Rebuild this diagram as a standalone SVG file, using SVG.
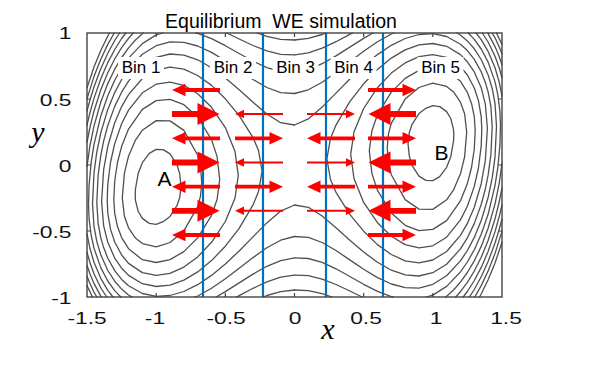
<svg xmlns="http://www.w3.org/2000/svg" xmlns:xlink="http://www.w3.org/1999/xlink" width="600" height="368" viewBox="0 0 600 368">
<style>
.c{fill:none;stroke:#505050;stroke-width:1.3;stroke-linejoin:round;stroke-linecap:round}
.bl{stroke:#0070c0;stroke-width:2.2}
.ar{fill:#ff0000}
.lbl{font-family:"Liberation Sans",Arial,sans-serif;font-size:17px;fill:#000;text-anchor:middle}
.tk{font-family:"Liberation Sans",Arial,sans-serif;font-size:16.5px;fill:#111}
.ax{font-family:"Liberation Serif","Times New Roman",serif;font-style:italic;font-size:30px;fill:#000;text-anchor:middle}
.fr{fill:none;stroke:#444;stroke-width:1.4}
.tick{stroke:#444;stroke-width:1.2}
</style>
<defs>
<path id="am" d="M0,-1.9H34.5V-6.3L48,0L34.5,6.3V1.9H0Z"/>
<path id="at" d="M0,-2.9H25.5V-11L47.5,0L25.5,11V2.9H0Z"/>
<path id="an" d="M0,-1H39V-4.2L48,0L39,4.2V1H0Z"/>
</defs>
<rect width="600" height="368" fill="#fff"/>
<g id="contours">
<g id="contours-a" class="c">
<path d="M135.2,195.4L135.46,189 138.22,173.3 142.37,162.7 149.28,153.4 156.2,149.4 163.11,149.6 170.03,153.9 176.94,164.6 179.71,173.7 181,186.7 179.71,197.5 176.94,205.7 170.03,216.4 163.11,221.7 156.2,224.3 149.28,223.4 142.37,218.4 138.22,211.5 135.46,200.3Z"/>
<path d="M122.3,197.9L124.4,173.2 128.54,156.2 135.46,140.1 142.37,130.2 156.2,120.6 170.03,120.9 183.86,130.4 197.69,155.3 200.46,166.7 201.8,182.7 200.46,196.3 197.69,206.6 183.86,230.9 170.03,242.5 156.2,246.8 142.37,243.6 135.46,238.1 128.54,227.8 124.4,216.2Z"/>
<path d="M113.8,199.5L114.71,181 117.48,162.5 121.63,146.4 128.54,129.1 142.37,109.4 156.2,100.6 170.03,99.3 183.86,104.7 197.69,117 211.52,139.6 217.05,156.4 219.7,179.3 217.05,199.5 211.52,215.3 197.69,237.9 183.86,251.6 170.03,259.6 156.2,262.5 142.37,259.7 128.54,248.7 121.63,237.6 117.48,226.6 114.71,213.4Z"/>
<path d="M107.2,200.8L107.8,184.1 110.56,162 114.71,143.6 121.63,123.8 128.54,110.1 142.37,92.8 156.2,84.2 170.03,82.1 183.86,85.4 197.69,93.8 211.52,107.3 225.35,127.6 235.03,151.5 238.3,175.7 235.03,198 225.35,221.5 211.52,242.3 197.69,256.9 183.86,267.1 170.03,273.3 156.2,275.4 142.37,272.6 128.54,263.4 121.63,255 114.71,242 110.56,229.4 107.8,213.3Z"/>
<path d="M101.6,201.8L103.65,169.6 107.8,146.3 114.71,122.7 121.63,106.6 128.54,94.6 142.37,78.5 156.2,70 170.03,67.2 183.86,69.2 197.69,75.5 211.52,85.4 225.35,98.8 239.18,115.6 253.01,137.7 258.54,150.5 262.1,171.2 258.54,191.4 253.01,204.9 239.18,228.3 225.35,246.2 211.52,260.6 197.69,271.9 183.86,280.1 170.03,285.1 156.2,286.5 142.37,283.7 128.54,275.4 121.63,268.2 114.71,258.1 107.8,242.3 103.65,225.8Z"/>
<path d="M294.5,125L280.67,122.7 266.84,114 253.01,102.3 239.18,89.8 225.35,77.9 211.52,67.7 197.69,59.8 183.86,55.1 170.03,54 156.2,57.3 142.37,65.8 128.54,81.1 121.63,92.2 114.71,106.4 107.8,125.5 103.65,141.1 100.88,154.8 98.11,175.2 96.8,202.7 98.11,223.3 100.88,238.1 103.65,247.6 107.8,258.2 114.71,270.6 121.63,279.4 128.54,285.7 142.37,293.5 156.2,296.4 170.03,295.5 183.86,291.5 197.69,284.7 211.52,275.4 225.35,264 239.18,251 253.01,236.9 266.84,222.9 280.67,211.1 294.5,205"/>
<path d="M294.5,93.5L280.67,92.6 266.84,87.5 253.01,79.5 239.18,70.1 225.35,60.7 211.52,52.4 197.69,46 183.86,42.3 170.03,41.9 156.2,45.7 142.37,54.3 128.54,69.1 121.63,79.5 114.71,92.6 107.8,109.4 100.88,132.5 96.73,152.4 93.97,173.1 92.5,203.6 93.97,226.4 96.73,241.2 100.88,255.1 107.8,270.5 114.71,281.2 121.63,289.1 128.54,295 132.2,297"/>
<path d="M195.2,297L197.69,296 211.52,288.2 225.35,278.8 239.18,268.3 253.01,257.6 266.84,247.7 280.67,240.2 294.5,236.5"/>
<path d="M162.7,33L156.2,34.9 142.37,43.6 128.54,58.1 121.63,68 114.71,80.3 107.8,95.7 100.88,115.7 93.97,144.7 91.2,162.4 89.12,184.6 88.5,204.3 89.12,219.2 91.2,235.5 93.97,248.1 100.88,267.9 107.8,281 114.71,290.6 120.8,297"/>
<path d="M195.9,33L197.69,33.4 211.52,38.7 225.35,45.7 239.18,53.5 253.01,61.2 266.84,67.6 280.67,71.5 294.5,72.2"/>
<path d="M216.1,297L225.35,291.6 239.18,282.9 253.01,274.1 266.84,266.3 280.67,260.6 294.5,257.8"/>
<path d="M87.05,166.4L89.82,146.5 93.97,126.1 100.88,101.8 107.8,83.6 114.71,69.2 121.63,57.5 128.54,47.9 135.46,40 142.37,33.7 143.3,33"/>
<path d="M87.05,233.8L89.82,248 93.97,262.3 100.88,278.6 107.8,290.3 113,297"/>
<path d="M226.9,33L239.18,39 253.01,45.5 266.84,50.9 280.67,54.3 294.5,54.9"/>
<path d="M236.7,297L239.18,295.7 253.01,288.3 266.84,281.9 280.67,277.2 294.5,275.1"/>
<path d="M87.05,142.1L89.82,128 93.97,111.2 100.88,89.5 107.8,72.7 114.71,59 121.63,47.7 128.54,38.3 133.3,33"/>
<path d="M87.05,252.3L89.82,262.2 93.97,273.7 100.88,288 106.7,297"/>
<path d="M257.1,33L266.84,36.3 280.67,39.3 294.5,40"/>
<path d="M263.1,297L266.84,295.5 280.67,291.7 294.5,290"/>
<path d="M87.05,125L89.82,113.2 93.97,98.4 100.88,78.5 107.8,62.6 114.71,49.5 121.63,38.5 125.8,33"/>
<path d="M87.05,265.5L89.82,273.5 93.97,283.4 100.88,296.4 101.1,297"/>
<path d="M87.05,110.9L89.82,100.5 93.97,87 100.88,68.4 107.8,53.2 114.71,40.5 119.6,33"/>
<path d="M87.05,276.2L89.82,283.2 93.97,292.2 96.8,297"/>
<path d="M87.05,98.6L93.97,76.6 100.88,59 107.8,44.4 114.2,33"/>
<path d="M87.05,285.6L92.5,297"/>
<path d="M87.05,87.7L93.97,67 100.88,50.2 107.8,36 109.4,33"/>
</g>
<use id="contours-b" xlink:href="#contours-a" href="#contours-a" transform="rotate(180 294.5 165)"/>
</g>
<g id="bin-labels">
<g id="bin1"><rect x="118" y="57" width="46" height="22" fill="#fff"/><text class="lbl" x="141" y="73">Bin 1</text></g>
<g id="bin2"><rect x="210" y="57" width="46" height="22" fill="#fff"/><text class="lbl" x="233" y="73">Bin 2</text></g>
<g id="bin3"><rect x="272.5" y="57" width="46" height="22" fill="#fff"/><text class="lbl" x="295.5" y="73">Bin 3</text></g>
<g id="bin4"><rect x="330.5" y="57" width="46" height="22" fill="#fff"/><text class="lbl" x="353.5" y="73">Bin 4</text></g>
<g id="bin5"><rect x="417.5" y="57" width="46" height="22" fill="#fff"/><text class="lbl" x="440.5" y="73">Bin 5</text></g>
</g>
<g id="bin-boundaries">
<line class="bl" x1="203" y1="33" x2="203" y2="297"/>
<line class="bl" x1="263" y1="33" x2="263" y2="297"/>
<line class="bl" x1="326" y1="33" x2="326" y2="297"/>
<line class="bl" x1="383" y1="33" x2="383" y2="297"/>
</g>
<g id="arrows" class="ar">
<use href="#am" transform="translate(220,90) scale(-1,1)"/>
<use href="#at" transform="translate(172,114)"/>
<use href="#am" transform="translate(220,138.3) scale(-1,1)"/>
<use href="#at" transform="translate(172,162.5)"/>
<use href="#am" transform="translate(220,186.7) scale(-1,1)"/>
<use href="#at" transform="translate(172,210.8)"/>
<use href="#am" transform="translate(220,235) scale(-1,1)"/>
<use href="#an" transform="translate(283,114) scale(-1,1)"/>
<use href="#am" transform="translate(235,138.3)"/>
<use href="#an" transform="translate(283,162.5) scale(-1,1)"/>
<use href="#am" transform="translate(235,186.7)"/>
<use href="#an" transform="translate(283,210.8) scale(-1,1)"/>
<use href="#an" transform="translate(307,114)"/>
<use href="#am" transform="translate(355,138.3) scale(-1,1)"/>
<use href="#an" transform="translate(307,162.5)"/>
<use href="#am" transform="translate(355,186.7) scale(-1,1)"/>
<use href="#an" transform="translate(307,210.8)"/>
<use href="#am" transform="translate(368,90)"/>
<use href="#at" transform="translate(416,114) scale(-1,1)"/>
<use href="#am" transform="translate(368,138.3)"/>
<use href="#at" transform="translate(416,162.5) scale(-1,1)"/>
<use href="#am" transform="translate(368,186.7)"/>
<use href="#at" transform="translate(416,210.8) scale(-1,1)"/>
<use href="#am" transform="translate(368,235)"/>
</g>
<g id="state-labels">
<text id="stateA" x="164.5" y="186" font-family="Liberation Sans, Arial, sans-serif" font-size="21" text-anchor="middle">A</text>
<text id="stateB" x="441.5" y="160" font-family="Liberation Sans, Arial, sans-serif" font-size="21" text-anchor="middle">B</text>
</g>
<g id="frame">
<rect class="fr" x="87" y="33" width="415" height="264"/>
<path class="tick" d="M156.2,33v4M225.35,33v4M294.5,33v4M363.65,33v4M432.8,33v4M156.2,297v-4M225.35,297v-4M294.5,297v-4M363.65,297v-4M432.8,297v-4M87,99h4M87,165h4M87,231h4M502,99h-4M502,165h-4M502,231h-4"/>
</g>
<g id="tick-labels" class="tk">
<text transform="translate(71.5,39) scale(1.38,1)" text-anchor="end">1</text>
<text transform="translate(71.5,105.5) scale(1.38,1)" text-anchor="end">0.5</text>
<text transform="translate(71.5,171.5) scale(1.38,1)" text-anchor="end">0</text>
<text transform="translate(71.5,238) scale(1.38,1)" text-anchor="end">-0.5</text>
<text transform="translate(71.5,303.5) scale(1.38,1)" text-anchor="end">-1</text>
<text transform="translate(87,324) scale(1.38,1)" text-anchor="middle">-1.5</text>
<text transform="translate(155,324) scale(1.38,1)" text-anchor="middle">-1</text>
<text transform="translate(226,324) scale(1.38,1)" text-anchor="middle">-0.5</text>
<text transform="translate(295,324) scale(1.38,1)" text-anchor="middle">0</text>
<text transform="translate(366,324) scale(1.38,1)" text-anchor="middle">0.5</text>
<text transform="translate(436,324) scale(1.38,1)" text-anchor="middle">1</text>
<text transform="translate(506,324) scale(1.38,1)" text-anchor="middle">1.5</text>
</g>
<g id="axis-labels">
<text class="ax" x="38" y="142">y</text>
<text class="ax" x="328" y="339">x</text>
</g>
<g id="title">
<text x="281" y="28" font-family="Liberation Sans, Arial, sans-serif" font-size="19.5" text-anchor="middle" xml:space="preserve">Equilibrium  WE simulation</text>
</g>
</svg>
